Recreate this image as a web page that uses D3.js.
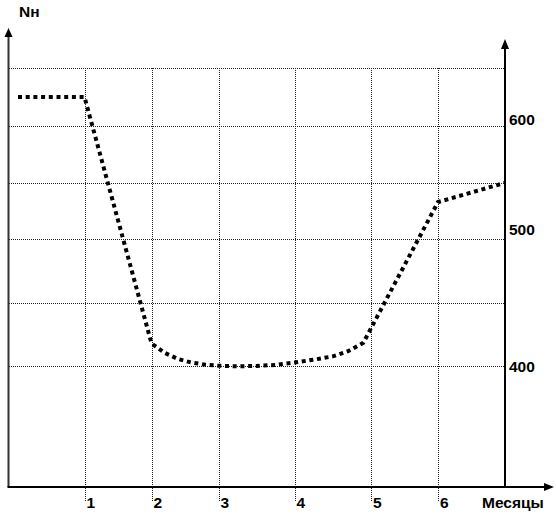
<!DOCTYPE html>
<html lang="ru">
  <head>
    <meta charset="utf-8" />
    <title>Nн по месяцам</title>
    <script type="text/javascript" src="https://d3js.org/d3.v7.min.js"></script>
    <style>
      body {
        margin: 0;
        background: #fff;
      }
      text {
        font-family: "Liberation Sans", Arial, sans-serif;
        font-weight: bold;
        font-size: 15.5px;
        fill: #000;
      }
      .grid line {
        stroke: #222;
        stroke-width: 1px;
        stroke-dasharray: 1 1;
        shape-rendering: crispEdges;
      }
      .axis line {
        stroke: #000;
        stroke-width: 2px;
      }
      .axis line.leftaxis {
        stroke: #333;
      }
      .arrow {
        fill: #000;
      }
      path.linia {
        fill: none;
        stroke: #000;
        stroke-width: 4px;
        stroke-dasharray: 4 3.7;
      }
    </style>
  </head>

  <body>
    <script>
      // months (fractional where the curve bends)
      let months = [0, 1, 2, 2.2, 2.4, 2.6, 2.8, 3, 3.25, 3.5, 3.75, 4, 4.25, 4.5, 4.7, 4.9, 6, 7];
      let nValues = [620, 620, 416.5, 409.5, 405, 402.5, 401, 400.2, 399.8, 400, 400.8, 402.5, 404.6, 407, 410.8, 417, 524.5, 542];

      let monthTicks = [1, 2, 3, 4, 5, 6];
      let yTicks = [400, 500, 600];
      let gridValues = [400, 446, 493, 542, 594, 646];

      let w = 556;
      let h = 516;

      let leftX = 8.5;
      let axisY = 487;

      // the drawing is hand-made, so the scales are piecewise
      let x_scale = d3
        .scaleLinear()
        .domain([0, 1, 2, 3, 4, 5, 6, 7])
        .range([18, 84.5, 151.5, 218.5, 294.5, 371, 438, 505]);

      let y_scale = d3
        .scaleLinear()
        .domain([400, 500, 600])
        .range([366, 229, 119]);

      let rightX = x_scale(7);

      let data = months.map((m, i) => ({ m: m, v: nValues[i] }));

      let svg = d3
        .select("body")
        .append("svg")
        .attr("width", w)
        .attr("height", h);

      // grid
      let grid = svg.append("g").attr("class", "grid");

      grid
        .selectAll("line.hgrid")
        .data(gridValues)
        .join("line")
        .attr("class", "hgrid")
        .attr("x1", leftX)
        .attr("x2", rightX)
        .attr("y1", (d) => Math.round(y_scale(d)) + 0.5)
        .attr("y2", (d) => Math.round(y_scale(d)) + 0.5);

      grid
        .selectAll("line.vgrid")
        .data(monthTicks)
        .join("line")
        .attr("class", "vgrid")
        .attr("x1", (d) => Math.round(x_scale(d)) + 0.5)
        .attr("x2", (d) => Math.round(x_scale(d)) + 0.5)
        .attr("y1", y_scale(d3.max(gridValues)))
        .attr("y2", axisY + 15);

      // axes
      let axes = svg.append("g").attr("class", "axis");

      axes
        .append("line")
        .attr("class", "leftaxis")
        .attr("x1", leftX)
        .attr("x2", leftX)
        .attr("y1", axisY)
        .attr("y2", 34);

      axes
        .append("line")
        .attr("x1", rightX)
        .attr("x2", rightX)
        .attr("y1", axisY)
        .attr("y2", 45);

      axes
        .append("line")
        .attr("x1", leftX - 1)
        .attr("x2", 548)
        .attr("y1", axisY)
        .attr("y2", axisY);

      svg
        .append("path")
        .attr("class", "arrow")
        .attr("d", `M${leftX - 4},37 L${leftX},28 L${leftX + 4},37 Z`);

      svg
        .append("path")
        .attr("class", "arrow")
        .attr("d", `M${rightX - 4},49 L${rightX},39 L${rightX + 4},49 Z`);

      svg
        .append("path")
        .attr("class", "arrow")
        .attr("d", `M544,${axisY - 4} L554,${axisY} L544,${axisY + 4} Z`);

      // tick labels
      svg
        .selectAll("text.xlab")
        .data(monthTicks)
        .join("text")
        .attr("class", "xlab")
        .attr("x", (d) => x_scale(d) + 2)
        .attr("y", 508)
        .text((d) => d);

      svg
        .selectAll("text.ylab")
        .data(yTicks)
        .join("text")
        .attr("class", "ylab")
        .attr("x", rightX + 4)
        .attr("y", (d) => y_scale(d) + 5.5)
        .text((d) => d);

      svg.append("text").attr("x", 482).attr("y", 508).text("Месяцы");

      svg.append("text").attr("x", 19).attr("y", 17).text("Nн");

      // the curve
      let linia = d3
        .line()
        .x((d) => x_scale(d.m))
        .y((d) => y_scale(d.v));

      svg.append("path").attr("class", "linia").attr("d", linia(data));
    </script>
  </body>
</html>
